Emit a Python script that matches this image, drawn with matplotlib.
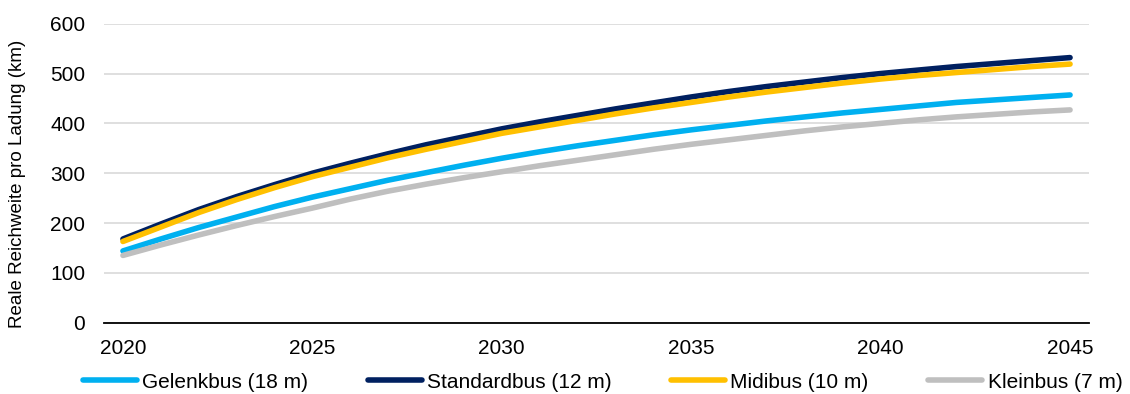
import numpy as np
import matplotlib
matplotlib.use("Agg")
import matplotlib.pyplot as plt

plt.rcParams['font.family'] = ['Liberation Sans', 'DejaVu Sans']

# yearly values (km per charge)
years = list(range(2020, 2046))
gelenkbus = [144, 168, 191, 212, 233, 252, 269, 286, 301, 316, 330, 343, 355,
             366, 377, 387, 396, 405, 413, 421, 428, 435, 442, 447, 452, 457]
standardbus = [168, 198, 227, 253, 277, 300, 320, 339, 357, 373, 389, 403, 416,
               429, 441, 453, 464, 474, 483, 492, 500, 507, 514, 520, 526, 532]
midibus = [163, 192, 221, 247, 271, 293, 312, 331, 348, 364, 380, 393, 406,
           419, 431, 442, 453, 463, 472, 481, 489, 496, 502, 508, 514, 519]
kleinbus = [135, 156, 176, 195, 213, 230, 248, 264, 278, 291, 303, 315, 326,
            337, 348, 358, 367, 376, 385, 393, 400, 407, 413, 418, 423, 427]

series = [
    ("Gelenkbus (18 m)", gelenkbus, "#00B0F0"),
    ("Standardbus (12 m)", standardbus, "#002060"),
    ("Midibus (10 m)", midibus, "#FFC000"),
    ("Kleinbus (7 m)", kleinbus, "#BFBFBF"),
]

fig = plt.figure(figsize=(11.3, 3.94), dpi=100)
ax = fig.add_axes([104/1130, 1-322.7/394, (1089-104)/1130, (322.7-23.7)/394])

for name, vals, col in series:
    ax.plot(years, vals, color=col, lw=4, solid_capstyle='round', label=name)

ax.set_xlim(2019.5, 2045.5)
ax.set_ylim(0, 600)
ax.set_yticks(np.arange(0, 601, 100))
ax.set_xticks(range(2020, 2046, 5))
ax.grid(axis='y', color='#D9D9D9', lw=1.2)
ax.set_axisbelow(True)
for s in ['top', 'right', 'left']:
    ax.spines[s].set_visible(False)
ax.spines['bottom'].set_color('black')
ax.spines['bottom'].set_linewidth(1.3)
ax.tick_params(axis='both', length=0, labelsize=15, colors='black')
ax.tick_params(axis='y', pad=13.5)
ax.tick_params(axis='x', pad=12)

ax.set_ylabel("Reale Reichweite pro Ladung (km)", fontsize=13.5)
ax.yaxis.set_label_coords(-0.079, 0.464)

fig.legend(loc='center left', bbox_to_anchor=(83/1130, 1-382/394), ncol=4,
           frameon=False, fontsize=15, handlelength=2.6, handletextpad=0.25,
           columnspacing=2.85, borderpad=0, borderaxespad=0)

fig.savefig("out.png", dpi=100)
